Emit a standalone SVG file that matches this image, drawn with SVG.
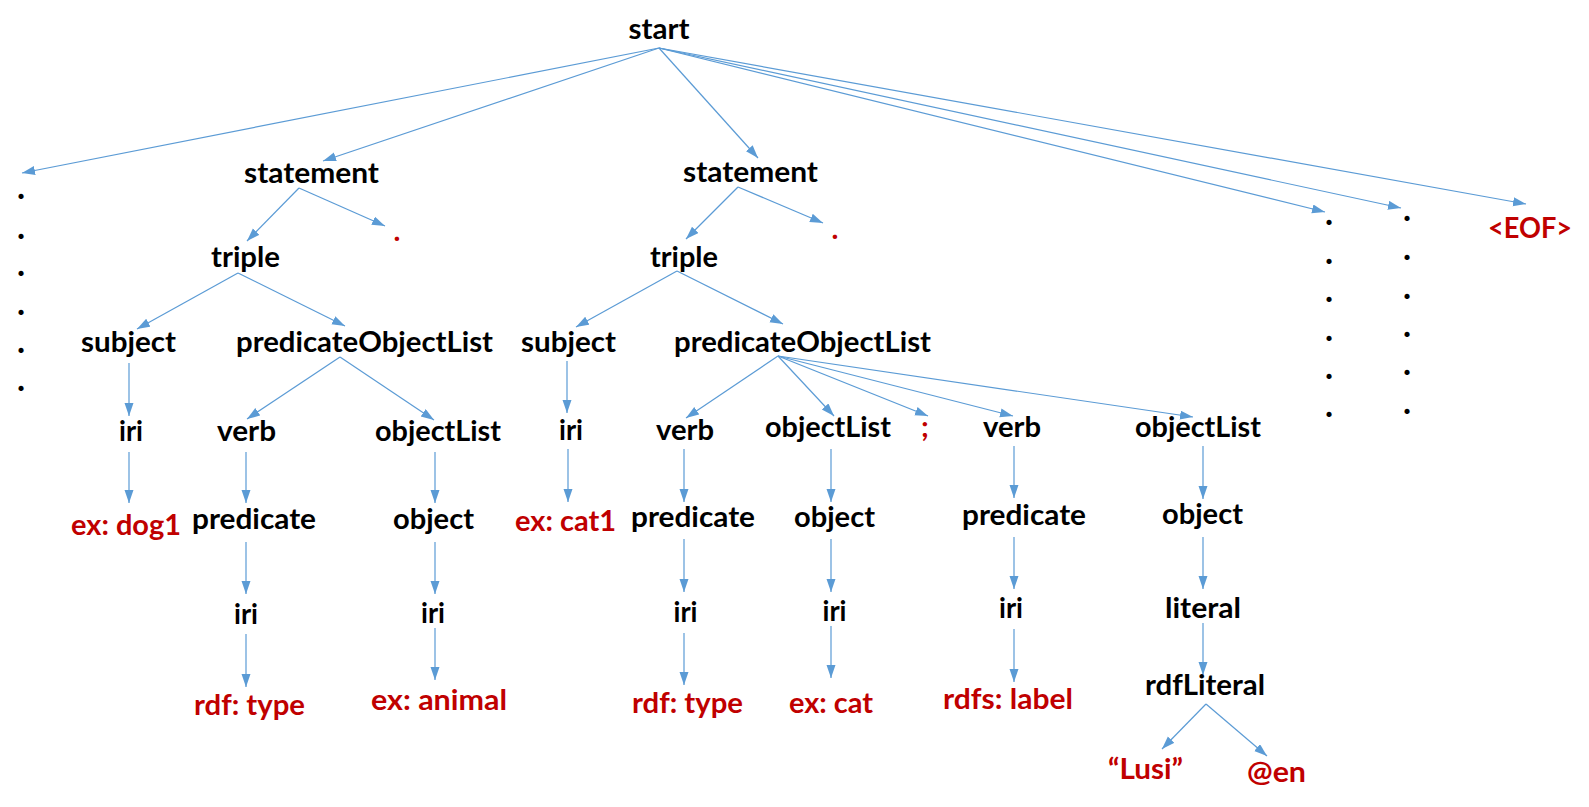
<svg xmlns="http://www.w3.org/2000/svg" width="1589" height="807" viewBox="0 0 1589 807">
<style>
text{font-family:Lato,"Liberation Sans",sans-serif;font-weight:bold;font-size:29px;text-anchor:middle}
.k{fill:#000}
.r{fill:#C00000}
.d{font-size:34px}
.e{stroke:#5B9BD5;stroke-width:1.2;fill:none;marker-end:url(#ah)}
</style>
<defs>
<marker id="ah" markerUnits="userSpaceOnUse" markerWidth="14" markerHeight="10" refX="13" refY="4.5" orient="auto">
<path d="M0,0 L13,4.5 L0,9 z" fill="#5B9BD5"/>
</marker>
</defs>
<rect width="1589" height="807" fill="#fff"/>
<g id="connectors">
<line class="e" x1="659" y1="48" x2="22" y2="173"/>
<line class="e" x1="659" y1="48" x2="323" y2="161"/>
<line class="e" x1="659" y1="48" x2="758" y2="158"/>
<line class="e" x1="659" y1="48" x2="1325" y2="212"/>
<line class="e" x1="659" y1="48" x2="1401" y2="208"/>
<line class="e" x1="659" y1="48" x2="1526" y2="204"/>
<line class="e" x1="299" y1="188" x2="247" y2="241"/>
<line class="e" x1="299" y1="188" x2="385" y2="226"/>
<line class="e" x1="738" y1="187" x2="686" y2="239"/>
<line class="e" x1="738" y1="187" x2="823" y2="223"/>
<line class="e" x1="238" y1="273" x2="137" y2="329"/>
<line class="e" x1="238" y1="273" x2="345" y2="326"/>
<line class="e" x1="677" y1="271" x2="576" y2="327"/>
<line class="e" x1="677" y1="271" x2="783" y2="324"/>
<line class="e" x1="340" y1="357" x2="247" y2="419"/>
<line class="e" x1="340" y1="357" x2="434" y2="420"/>
<line class="e" x1="778" y1="356" x2="686" y2="418"/>
<line class="e" x1="778" y1="356" x2="834" y2="416"/>
<line class="e" x1="778" y1="356" x2="928" y2="416"/>
<line class="e" x1="778" y1="356" x2="1013" y2="416"/>
<line class="e" x1="778" y1="356" x2="1193" y2="417"/>
<line class="e" x1="129" y1="363" x2="129" y2="416"/>
<line class="e" x1="129" y1="452" x2="129" y2="503"/>
<line class="e" x1="246" y1="452" x2="246" y2="503"/>
<line class="e" x1="246" y1="542" x2="246" y2="594"/>
<line class="e" x1="246" y1="634" x2="246" y2="687"/>
<line class="e" x1="435" y1="452" x2="435" y2="503"/>
<line class="e" x1="435" y1="542" x2="435" y2="594"/>
<line class="e" x1="435" y1="628" x2="435" y2="680"/>
<line class="e" x1="567" y1="361" x2="567" y2="413"/>
<line class="e" x1="568" y1="449" x2="568" y2="502"/>
<line class="e" x1="684" y1="449" x2="684" y2="502"/>
<line class="e" x1="684" y1="539" x2="684" y2="592"/>
<line class="e" x1="684" y1="633" x2="684" y2="685"/>
<line class="e" x1="831" y1="449" x2="831" y2="502"/>
<line class="e" x1="831" y1="539" x2="831" y2="592"/>
<line class="e" x1="831" y1="626" x2="831" y2="678"/>
<line class="e" x1="1014" y1="446" x2="1014" y2="498"/>
<line class="e" x1="1014" y1="537" x2="1014" y2="589"/>
<line class="e" x1="1014" y1="629" x2="1014" y2="682"/>
<line class="e" x1="1203" y1="446" x2="1203" y2="499"/>
<line class="e" x1="1203" y1="537" x2="1203" y2="589"/>
<line class="e" x1="1203" y1="623" x2="1203" y2="675"/>
<line class="e" x1="1206" y1="704" x2="1162" y2="749"/>
<line class="e" x1="1206" y1="704" x2="1267" y2="756"/>
</g>
<g id="n-start"><text class="k" x="659" y="39" textLength="61" lengthAdjust="spacingAndGlyphs">start</text></g>
<g id="n-dots-left" class="k">
<text class="d" x="21" y="199">.</text><text class="d" x="21" y="239">.</text><text class="d" x="21" y="276">.</text><text class="d" x="21" y="315">.</text><text class="d" x="21" y="353">.</text><text class="d" x="21" y="391">.</text>
</g>
<g id="n-statement1"><text class="k" x="311.5" y="183" textLength="135" lengthAdjust="spacingAndGlyphs">statement</text></g>
<g id="n-dot1"><text class="r" x="397" y="241">.</text></g>
<g id="n-triple1"><text class="k" x="245.5" y="267" textLength="69" lengthAdjust="spacingAndGlyphs">triple</text></g>
<g id="n-subject1"><text class="k" x="128.5" y="352" textLength="95" lengthAdjust="spacingAndGlyphs">subject</text></g>
<g id="n-pol1"><text class="k" x="364.5" y="352" textLength="257" lengthAdjust="spacingAndGlyphs">predicateObjectList</text></g>
<g id="n-iri1"><text class="k" x="131" y="441" textLength="24" lengthAdjust="spacingAndGlyphs">iri</text></g>
<g id="n-verb1"><text class="k" x="246.5" y="441" textLength="59" lengthAdjust="spacingAndGlyphs">verb</text></g>
<g id="n-objectList1"><text class="k" x="438" y="441" textLength="126" lengthAdjust="spacingAndGlyphs">objectList</text></g>
<g id="n-dog1"><text class="r" x="126" y="535" textLength="110" lengthAdjust="spacingAndGlyphs">ex: dog1</text></g>
<g id="n-predicate1"><text class="k" x="254" y="529" textLength="124" lengthAdjust="spacingAndGlyphs">predicate</text></g>
<g id="n-object1"><text class="k" x="433.5" y="529" textLength="81" lengthAdjust="spacingAndGlyphs">object</text></g>
<g id="n-iri1b"><text class="k" x="246" y="624" textLength="24" lengthAdjust="spacingAndGlyphs">iri</text></g>
<g id="n-iri1c"><text class="k" x="433" y="623" textLength="24" lengthAdjust="spacingAndGlyphs">iri</text></g>
<g id="n-type1"><text class="r" x="249.5" y="715" textLength="111" lengthAdjust="spacingAndGlyphs">rdf: type</text></g>
<g id="n-animal"><text class="r" x="439" y="710" textLength="136" lengthAdjust="spacingAndGlyphs">ex: animal</text></g>
<g id="n-statement2"><text class="k" x="750.5" y="182" textLength="135" lengthAdjust="spacingAndGlyphs">statement</text></g>
<g id="n-dot2"><text class="r" x="835" y="239">.</text></g>
<g id="n-triple2"><text class="k" x="684" y="267" textLength="68" lengthAdjust="spacingAndGlyphs">triple</text></g>
<g id="n-subject2"><text class="k" x="568.5" y="352" textLength="95" lengthAdjust="spacingAndGlyphs">subject</text></g>
<g id="n-pol2"><text class="k" x="802.5" y="352" textLength="257" lengthAdjust="spacingAndGlyphs">predicateObjectList</text></g>
<g id="n-iri2"><text class="k" x="571" y="440" textLength="24" lengthAdjust="spacingAndGlyphs">iri</text></g>
<g id="n-verb2"><text class="k" x="685" y="440" textLength="58" lengthAdjust="spacingAndGlyphs">verb</text></g>
<g id="n-objectList2"><text class="k" x="828" y="437" textLength="126" lengthAdjust="spacingAndGlyphs">objectList</text></g>
<g id="n-semicolon"><text class="r" x="925" y="437">;</text></g>
<g id="n-verb3"><text class="k" x="1012" y="437" textLength="58" lengthAdjust="spacingAndGlyphs">verb</text></g>
<g id="n-objectList3"><text class="k" x="1198" y="437" textLength="126" lengthAdjust="spacingAndGlyphs">objectList</text></g>
<g id="n-cat1"><text class="r" x="565.5" y="531" textLength="101" lengthAdjust="spacingAndGlyphs">ex: cat1</text></g>
<g id="n-predicate2"><text class="k" x="693" y="527" textLength="124" lengthAdjust="spacingAndGlyphs">predicate</text></g>
<g id="n-object2"><text class="k" x="834.5" y="527" textLength="81" lengthAdjust="spacingAndGlyphs">object</text></g>
<g id="n-predicate3"><text class="k" x="1024" y="525" textLength="124" lengthAdjust="spacingAndGlyphs">predicate</text></g>
<g id="n-object3"><text class="k" x="1202.5" y="524" textLength="81" lengthAdjust="spacingAndGlyphs">object</text></g>
<g id="n-iri2b"><text class="k" x="685.5" y="622" textLength="24" lengthAdjust="spacingAndGlyphs">iri</text></g>
<g id="n-iri2c"><text class="k" x="834.5" y="621" textLength="24" lengthAdjust="spacingAndGlyphs">iri</text></g>
<g id="n-iri3"><text class="k" x="1011" y="618" textLength="24" lengthAdjust="spacingAndGlyphs">iri</text></g>
<g id="n-literal"><text class="k" x="1203" y="618" textLength="76" lengthAdjust="spacingAndGlyphs">literal</text></g>
<g id="n-type2"><text class="r" x="687.5" y="713" textLength="111" lengthAdjust="spacingAndGlyphs">rdf: type</text></g>
<g id="n-cat"><text class="r" x="831" y="713" textLength="84" lengthAdjust="spacingAndGlyphs">ex: cat</text></g>
<g id="n-label"><text class="r" x="1008" y="709" textLength="130" lengthAdjust="spacingAndGlyphs">rdfs: label</text></g>
<g id="n-rdfLiteral"><text class="k" x="1205" y="695" textLength="120" lengthAdjust="spacingAndGlyphs">rdfLiteral</text></g>
<g id="n-lusi"><text class="r" x="1145.5" y="779" textLength="75" lengthAdjust="spacingAndGlyphs">“Lusi”</text></g>
<g id="n-en"><text class="r" x="1276.5" y="782" textLength="59" lengthAdjust="spacingAndGlyphs">@en</text></g>
<g id="n-dots-r1" class="k">
<text class="d" x="1329" y="225">.</text><text class="d" x="1329" y="264">.</text><text class="d" x="1329" y="302">.</text><text class="d" x="1329" y="341">.</text><text class="d" x="1329" y="379">.</text><text class="d" x="1329" y="417">.</text>
</g>
<g id="n-dots-r2" class="k">
<text class="d" x="1407" y="221">.</text><text class="d" x="1407" y="260">.</text><text class="d" x="1407" y="299">.</text><text class="d" x="1407" y="337">.</text><text class="d" x="1407" y="375">.</text><text class="d" x="1407" y="414">.</text>
</g>
<g id="n-eof"><text class="r" x="1530" y="238" textLength="84" lengthAdjust="spacingAndGlyphs">&lt;EOF&gt;</text></g>
</svg>
